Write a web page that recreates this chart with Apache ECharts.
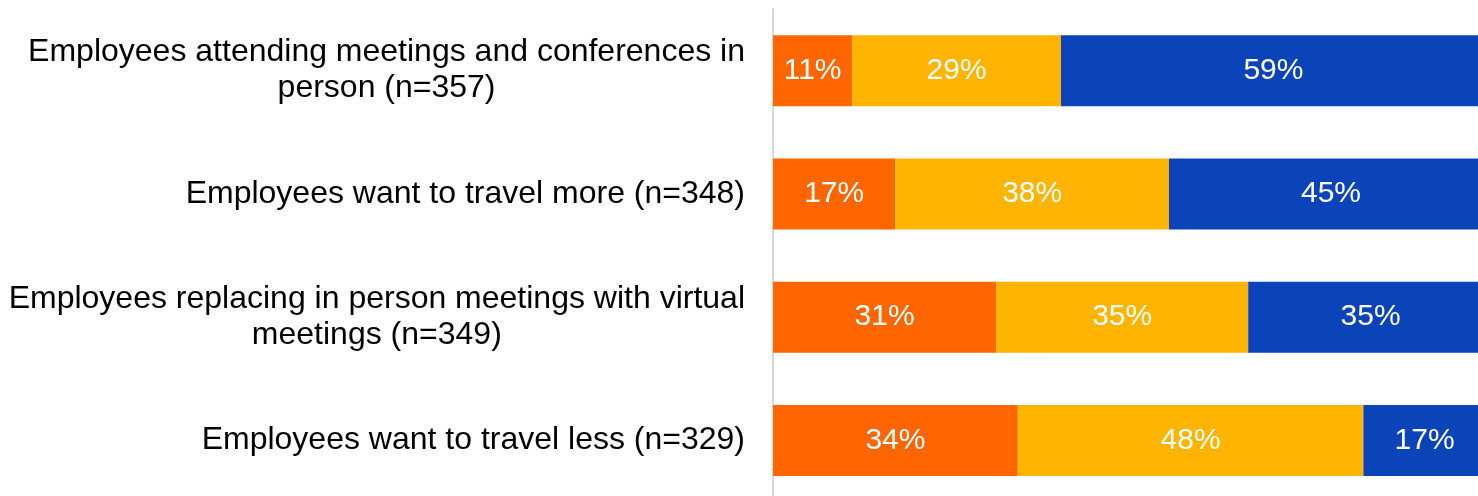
<!DOCTYPE html>
<html>
<head>
<meta charset="utf-8">
<style>
  html, body { margin: 0; padding: 0; background: #ffffff; }
  #chart { width: 1478px; height: 496px; }
</style>
<script src="https://cdn.jsdelivr.net/npm/echarts@6/dist/echarts.min.js"></script>
</head>
<body>
<div id="chart"></div>
<script>
// Survey statements, top to bottom
const categories = [
  'Employees attending meetings and conferences in\nperson (n=357)',
  'Employees want to travel more (n=348)',
  'Employees replacing in person meetings with virtual\nmeetings (n=349)',
  'Employees want to travel less (n=329)'
];

// Share of responses per statement (%)
const decreasing = [11, 17, 31, 34];
const same = [29, 38, 35, 48];
const increasing = [59, 45, 35, 17];

const colors = { decreasing: '#FF6600', same: '#FFB400', increasing: '#0B44B8' };
const FONT = "'Liberation Sans', Arial, sans-serif";

function seg(name, data, color) {
  return {
    name: name,
    type: 'bar',
    stack: 'total',
    data: data,
    barWidth: 71,
    itemStyle: { color: color },
    label: {
      show: true,
      position: 'inside',
      color: '#ffffff',
      fontFamily: FONT,
      fontSize: 30,
      formatter: p => p.value + '%'
    },
    emphasis: { disabled: true }
  };
}

const chart = echarts.init(document.getElementById('chart'));
chart.setOption({
  animation: false,
  grid: { left: 773, top: 9, width: 720, height: 493, outerBoundsMode: 'none', containLabel: false },
  xAxis: {
    type: 'value', min: 0, max: 100, show: false
  },
  yAxis: {
    type: 'category',
    inverse: true,
    data: categories,
    axisTick: { show: false },
    axisLine: { show: true, lineStyle: { color: '#d9d9d9', width: 2 } },
    axisLabel: {
      margin: 28,
      color: '#000000',
      fontFamily: FONT,
      fontSize: 32,
      formatter: v => v.split('\n').map(s => '{c|' + s + '}').join('\n'),
      rich: {
        c: {
          align: 'center',
          color: '#000000',
          fontFamily: FONT,
          fontSize: 32,
          lineHeight: 36
        }
      }
    }
  },
  series: [
    seg('Decreasing', decreasing, colors.decreasing),
    seg('Same', same, colors.same),
    seg('Increasing', increasing, colors.increasing)
  ]
});
</script>
</body>
</html>
